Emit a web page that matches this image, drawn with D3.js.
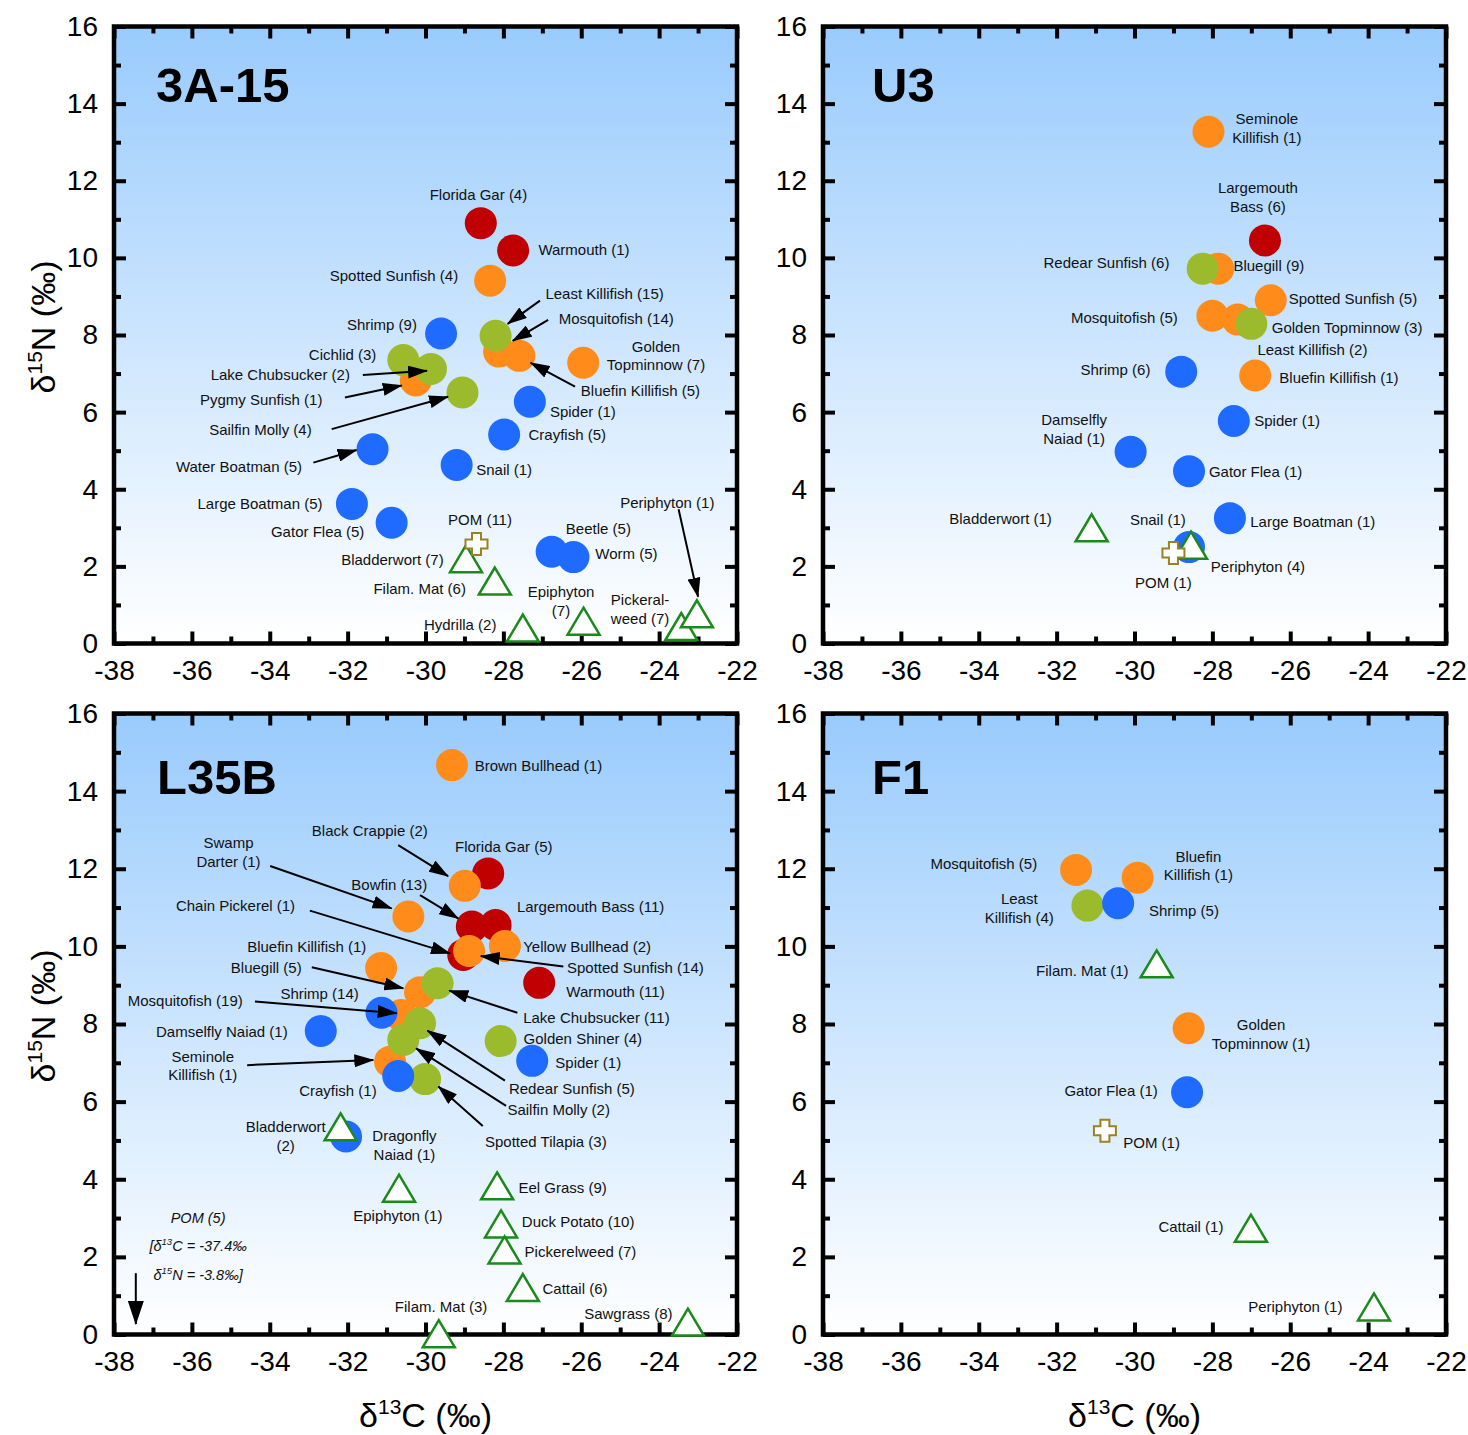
<!DOCTYPE html>
<html><head><meta charset="utf-8">
<script src="https://cdn.jsdelivr.net/npm/d3@7"></script>
<style>
body{margin:0;background:#fff;}
svg text{font-family:"Liberation Sans",Arial,Helvetica,sans-serif;}
</style></head><body>
<svg id="chart" width="1468" height="1435"></svg>
<script>
// ---------- DATA ----------
const xMajor = [-38,-36,-34,-32,-30,-28,-26,-24,-22];
const xMinor = [-37,-35,-33,-31,-29,-27,-25,-23];
const yMajor = [0,2,4,6,8,10,12,14,16];
const yMinor = [1,3,5,7,9,11,13,15];
const siteNames = ["3A-15","U3","L35B","F1"];

// [taxon, group, d13C, d15N]
const pts3A15 = [
 ["Florida Gar","pisc",-28.58,10.9],["Warmouth","pisc",-27.75,10.19],
 ["Spotted Sunfish","fish",-28.34,9.41],["Mosquitofish","fish",-28.11,7.57],["Bluefin Killifish","fish",-27.59,7.46],
 ["Golden Topminnow","fish",-25.95,7.28],["Pygmy Sunfish","fish",-30.25,6.82],
 ["Least Killifish","omni",-28.2,7.98],["Cichlid","omni",-30.57,7.35],["Lake Chubsucker","omni",-29.86,7.12],["Sailfin Molly","omni",-29.05,6.51],
 ["Shrimp","invert",-29.6,8.04],["Spider","invert",-27.32,6.27],["Crayfish","invert",-27.98,5.42],["Snail","invert",-29.2,4.63],
 ["Water Boatman","invert",-31.36,5.04],["Large Boatman","invert",-31.89,3.62],["Gator Flea","invert",-30.87,3.13],
 ["Beetle","invert",-26.76,2.38],["Worm","invert",-26.2,2.24],
 ["Bladderwort","plant",-28.96,2.2],["Filam. Mat","plant",-28.22,1.62],["Hydrilla","plant",-27.5,0.40],
 ["Epiphyton","plant",-25.94,0.58],["Pickerelweed","plant",-23.43,0.44],["Periphyton","plant",-23.03,0.77],
 ["POM","pom",-28.69,2.58]
];
const ptsU3 = [
 ["Largemouth Bass","pisc",-26.65,10.45],
 ["Seminole Killifish","fish",-28.1,13.27],["Bluegill","fish",-27.85,9.72],["Spotted Sunfish","fish",-26.5,8.9],
 ["Mosquitofish","fish",-28.0,8.5],["Least Killifish","fish",-27.35,8.4],["Bluefin Killifish","fish",-26.9,6.95],
 ["Redear Sunfish","omni",-28.25,9.72],["Golden Topminnow","omni",-27.0,8.29],
 ["Shrimp","invert",-28.8,7.05],["Spider","invert",-27.45,5.77],["Damselfly Naiad","invert",-30.1,4.97],
 ["Gator Flea","invert",-28.6,4.47],["Large Boatman","invert",-27.55,3.25],["Snail","invert",-28.6,2.5],
 ["Periphyton","plant",-28.55,2.55],["Bladderwort","plant",-31.1,3.0],
 ["POM","pom",-29.0,2.35]
];
const ptsL35B = [
 ["Florida Gar","pisc",-28.39,11.88],["Bowfin","pisc",-28.81,10.51],["Largemouth Bass","pisc",-28.2,10.55],
 ["Chain Pickerel","pisc",-29.03,9.78],["Warmouth","pisc",-27.08,9.06],
 ["Brown Bullhead","fish",-29.32,14.67],["Black Crappie","fish",-28.99,11.56],["Yellow Bullhead","fish",-27.96,10.01],
 ["Spotted Sunfish","fish",-28.88,9.88],["Swamp Darter","fish",-30.44,10.77],["Bluefin Killifish","fish",-31.14,9.44],
 ["Bluegill","fish",-30.14,8.82],["Mosquitofish","fish",-30.63,8.23],["Seminole Killifish","fish",-30.91,7.03],
 ["Lake Chubsucker","omni",-29.69,9.05],["Golden Shiner","omni",-28.07,7.56],["Redear Sunfish","omni",-30.14,8.02],
 ["Sailfin Molly","omni",-30.57,7.59],["Spotted Tilapia","omni",-30.01,6.58],
 ["Spider","invert",-27.26,7.05],["Shrimp","invert",-31.13,8.29],["Crayfish","invert",-30.70,6.66],
 ["Damselfly Naiad","invert",-32.69,7.82],["Dragonfly Naiad","invert",-32.04,5.10],
 ["Bladderwort","plant",-32.18,5.35],["Epiphyton","plant",-30.68,3.77],["Eel Grass","plant",-28.16,3.83],
 ["Duck Potato","plant",-28.06,2.85],["Pickerelweed","plant",-27.97,2.18],["Cattail","plant",-27.5,1.21],
 ["Filam. Mat","plant",-29.66,0.02],["Sawgrass","plant",-23.26,0.32]
];
const ptsF1 = [
 ["Mosquitofish","fish",-31.5,11.97],["Bluefin Killifish","fish",-29.92,11.77],["Golden Topminnow","fish",-28.61,7.89],
 ["Least Killifish","omni",-31.21,11.05],
 ["Shrimp","invert",-30.42,11.11],["Gator Flea","invert",-28.65,6.24],
 ["Filam. Mat","plant",-29.43,9.55],["Cattail","plant",-27.01,2.74],["Periphyton","plant",-23.85,0.71],
 ["POM","pom",-30.76,5.25]
];

// ---------- ANNOTATIONS (label text, d13C, d15N of first line centre) ----------
const lab3A15 = [
 ["Florida Gar (4)",-28.64,11.63],["Warmouth (1)",-25.93,10.2],["Spotted Sunfish (4)",-30.81,9.53],
 ["Least Killifish (15)",-25.4,9.08],["Mosquitofish (14)",-25.1,8.43],["Golden|Topminnow (7)",-24.08,7.70],
 ["Bluefin Killifish (5)",-24.48,6.56],["Spider (1)",-25.96,6.01],["Crayfish (5)",-26.36,5.41],
 ["Snail (1)",-27.98,4.5],["Shrimp (9)",-31.12,8.26],["Cichlid (3)",-32.13,7.48],
 ["Lake Chubsucker (2)",-33.73,6.96],["Pygmy Sunfish (1)",-34.22,6.33],["Sailfin Molly (4)",-34.24,5.54],
 ["Water Boatman (5)",-34.79,4.59],["Large Boatman (5)",-34.25,3.62],["Gator Flea (5)",-32.77,2.89],
 ["POM (11)",-28.6,3.2],["Beetle (5)",-25.56,2.97],["Worm (5)",-24.84,2.32],
 ["Bladderwort (7)",-30.85,2.17],["Filam. Mat (6)",-30.15,1.41],["Epiphyton|(7)",-26.52,1.34],
 ["Hydrilla (2)",-29.11,0.48],["Pickeral-|weed (7)",-24.49,1.13],["Periphyton (1)",-23.79,3.64]
];
const arr3A15 = [
 [-27.06,8.89,-27.89,8.29],[-26.85,8.39,-27.76,7.85],[-26.16,6.66,-27.3,7.28],
 [-31.61,6.96,-29.96,7.07],[-32.07,6.38,-30.61,6.69],[-32.41,5.56,-29.42,6.4],
 [-32.88,4.69,-31.77,5.02],[-23.5,3.48,-23.0,1.21]
];
const labU3 = [
 ["Seminole|Killifish (1)",-26.6,13.6],["Largemouth|Bass (6)",-26.83,11.81],["Redear Sunfish (6)",-30.72,9.87],
 ["Bluegill (9)",-26.55,9.79],["Spotted Sunfish (5)",-24.39,8.93],["Mosquitofish (5)",-30.26,8.44],
 ["Golden Topminnow (3)",-24.54,8.18],["Least Killifish (2)",-25.43,7.61],["Shrimp (6)",-30.49,7.09],
 ["Bluefin Killifish (1)",-24.75,6.89],["Spider (1)",-26.08,5.77],["Damselfly|Naiad (1)",-31.55,5.80],
 ["Gator Flea (1)",-26.89,4.45],["Bladderwort (1)",-33.44,3.23],["Snail (1)",-29.4,3.2],
 ["Large Boatman (1)",-25.42,3.15],["Periphyton (4)",-26.83,1.98],["POM (1)",-29.26,1.57]
];
const arrU3 = [];
const labL35B = [
 ["Brown Bullhead (1)",-27.1,14.65],["Black Crappie (2)",-31.43,12.98],["Florida Gar (5)",-27.99,12.57],
 ["Swamp|Darter (1)",-35.06,12.66],["Bowfin (13)",-30.93,11.58],["Largemouth Bass (11)",-25.76,11.01],
 ["Chain Pickerel (1)",-34.88,11.05],["Yellow Bullhead (2)",-25.85,9.99],["Bluefin Killifish (1)",-33.05,9.99],
 ["Spotted Sunfish (14)",-24.61,9.45],["Bluegill (5)",-34.09,9.44],["Warmouth (11)",-25.12,8.83],
 ["Shrimp (14)",-32.72,8.79],["Mosquitofish (19)",-36.17,8.6],["Lake Chubsucker (11)",-25.61,8.15],
 ["Damselfly Naiad (1)",-35.23,7.8],["Golden Shiner (4)",-25.96,7.63],["Seminole|Killifish (1)",-35.72,7.16],
 ["Spider (1)",-25.82,6.99],["Crayfish (1)",-32.25,6.27],["Redear Sunfish (5)",-26.24,6.34],
 ["Sailfin Molly (2)",-26.58,5.78],["Spotted Tilapia (3)",-26.91,4.96],["Bladderwort|(2)",-33.59,5.35],
 ["Dragonfly|Naiad (1)",-30.54,5.12],["Epiphyton (1)",-30.71,3.05],["Eel Grass (9)",-26.48,3.77],
 ["Duck Potato (10)",-26.08,2.91],["Pickerelweed (7)",-26.02,2.13],["Cattail (6)",-26.16,1.19],
 ["Filam. Mat (3)",-29.6,0.72],["Sawgrass (8)",-24.79,0.53]
];
const arrL35B = [
 [-30.7,12.61,-29.42,11.81],[-33.99,12.07,-30.87,10.98],[-30.14,11.32,-29.16,10.72],
 [-32.97,10.92,-29.37,9.82],[-26.46,9.48,-28.58,9.75],[-32.92,9.46,-30.57,8.92],
 [-27.64,8.29,-29.39,8.86],[-34.38,8.58,-30.74,8.28],[-34.58,6.94,-31.34,7.07],
 [-27.96,6.54,-29.95,7.83],[-27.93,5.89,-30.24,7.37],[-28.53,5.37,-29.67,6.39]
];
const labF1 = [
 ["Mosquitofish (5)",-33.87,12.14],["Bluefin|Killifish (1)",-28.36,12.31],["Least|Killifish (4)",-32.96,11.22],
 ["Shrimp (5)",-28.73,10.91],["Filam. Mat (1)",-31.34,9.37],["Golden|Topminnow (1)",-26.75,7.97],
 ["Gator Flea (1)",-30.6,6.27],["POM (1)",-29.56,4.95],["Cattail (1)",-28.55,2.78],["Periphyton (1)",-25.87,0.72]
];
const arrF1 = [];
// off-scale POM note for L35B: value, note position, arrow
const pomL35B = {c:-37.4, n:-3.8, count:5, noteX:-35.84, noteY:[3.0,2.29,1.54], arrow:[-37.44,1.58,-37.44,0.27]};

// ---------- STYLE / LAYOUT ----------
const colors = {pisc:"#C00000", fish:"#FF8C1A", omni:"#9BBB2C", invert:"#1F6BFF"};
const circleOrder = ["pisc","fish","omni","invert"];
const FONT = '"Liberation Sans",Arial,Helvetica,sans-serif';
const panelCfg = [
 {site:siteNames[0], pts:pts3A15, labels:lab3A15, arrows:arr3A15, box:[114,26.5,737,643.5], titleDx:42, titleDy:75.5, yTitle:true, xTitle:false},
 {site:siteNames[1], pts:ptsU3, labels:labU3, arrows:arrU3, box:[823,26.5,1446,643.5], titleDx:49, titleDy:75.5, yTitle:false, xTitle:false},
 {site:siteNames[2], pts:ptsL35B, labels:labL35B, arrows:arrL35B, box:[114,713.5,737,1334.5], titleDx:43, titleDy:80.5, yTitle:true, xTitle:true, pom:pomL35B},
 {site:siteNames[3], pts:ptsF1, labels:labF1, arrows:arrF1, box:[823,713.5,1446,1334.5], titleDx:49, titleDy:80.5, yTitle:false, xTitle:true}
];

const svg = d3.select("#chart");
const defs = svg.append("defs");
const grad = defs.append("linearGradient").attr("id","bg").attr("x1",0).attr("y1",0).attr("x2",0).attr("y2",1);
grad.append("stop").attr("offset","0%").attr("stop-color","#99CBFD");
grad.append("stop").attr("offset","100%").attr("stop-color","#FFFFFF");
defs.append("marker").attr("id","ah").attr("viewBox","0 0 20 13").attr("refX",19).attr("refY",6.5)
  .attr("markerWidth",20).attr("markerHeight",13).attr("markerUnits","userSpaceOnUse").attr("orient","auto")
  .append("path").attr("d","M0,0L20,6.5L0,13Z").attr("fill","#000");
defs.append("marker").attr("id","ah2").attr("viewBox","0 0 24 16").attr("refX",23).attr("refY",8)
  .attr("markerWidth",24).attr("markerHeight",16).attr("markerUnits","userSpaceOnUse").attr("orient","auto")
  .append("path").attr("d","M0,0L24,8L0,16Z").attr("fill","#000");

const triPath = "M0,-13.5L16,13.5L-16,13.5Z";
const crossPath = "M-4.5,-11H4.5V-4.5H11V4.5H4.5V11H-4.5V4.5H-11V-4.5H-4.5Z";

panelCfg.forEach(p => {
  const [bx0,by0,bx1,by1] = p.box;
  const W = bx1-bx0, H = by1-by0;
  const g = svg.append("g").attr("transform",`translate(${bx0},${by0})`);
  const x = d3.scaleLinear().domain([-38,-22]).range([0,W]);
  const y = d3.scaleLinear().domain([0,16]).range([H,0]);

  g.append("rect").attr("width",W).attr("height",H).attr("fill","url(#bg)");

  const ax = (gen, tr) => {
    const a = g.append("g").attr("transform",tr).call(gen);
    a.select(".domain").remove();
    a.selectAll("line").attr("stroke","#000").attr("stroke-width",4);
    a.selectAll("text").attr("font-size",28).attr("fill","#000").attr("font-family",FONT);
    return a;
  };
  const fmt = d => String(d);
  ax(d3.axisBottom(x).tickValues(xMajor).tickSizeInner(-12).tickSizeOuter(0).tickPadding(17).tickFormat(fmt), `translate(0,${H})`);
  ax(d3.axisBottom(x).tickValues(xMinor).tickSizeInner(-7).tickSizeOuter(0).tickFormat(""), `translate(0,${H})`);
  ax(d3.axisTop(x).tickValues(xMajor).tickSizeInner(-12).tickSizeOuter(0).tickFormat(""), `translate(0,0)`);
  ax(d3.axisTop(x).tickValues(xMinor).tickSizeInner(-7).tickSizeOuter(0).tickFormat(""), `translate(0,0)`);
  ax(d3.axisLeft(y).tickValues(yMajor).tickSizeInner(-12).tickSizeOuter(0).tickPadding(16).tickFormat(fmt), `translate(0,0)`);
  ax(d3.axisLeft(y).tickValues(yMinor).tickSizeInner(-7).tickSizeOuter(0).tickFormat(""), `translate(0,0)`);
  ax(d3.axisRight(y).tickValues(yMajor).tickSizeInner(-12).tickSizeOuter(0).tickFormat(""), `translate(${W},0)`);
  ax(d3.axisRight(y).tickValues(yMinor).tickSizeInner(-7).tickSizeOuter(0).tickFormat(""), `translate(${W},0)`);

  g.append("rect").attr("width",W).attr("height",H).attr("fill","none").attr("stroke","#000").attr("stroke-width",4.5);

  // circles
  circleOrder.forEach(grp => {
    g.selectAll(null).data(p.pts.filter(d => d[1]===grp)).enter().append("circle")
      .attr("cx", d => x(d[2])).attr("cy", d => y(d[3])).attr("r",16).attr("fill",colors[grp]);
  });
  // primary producers
  g.selectAll(null).data(p.pts.filter(d => d[1]==="plant")).enter().append("path")
    .attr("d",triPath).attr("transform", d => `translate(${x(d[2])},${y(d[3])})`)
    .attr("fill","#fff").attr("stroke","#1A8A1A").attr("stroke-width",2.5).attr("stroke-linejoin","miter");
  g.selectAll(null).data(p.pts.filter(d => d[1]==="pom")).enter().append("path")
    .attr("d",crossPath).attr("transform", d => `translate(${x(d[2])},${y(d[3])})`)
    .attr("fill","#fff").attr("stroke","#9A8222").attr("stroke-width",2);

  // arrows
  g.selectAll(null).data(p.arrows).enter().append("line")
    .attr("x1", d => x(d[0])).attr("y1", d => y(d[1])).attr("x2", d => x(d[2])).attr("y2", d => y(d[3]))
    .attr("stroke","#000").attr("stroke-width",2).attr("marker-end","url(#ah)");

  // labels
  p.labels.forEach(l => {
    const lines = l[0].split("|");
    const t = g.append("text").attr("x",x(l[1])).attr("y",y(l[2])).attr("text-anchor","middle")
      .attr("font-size",15).attr("fill","#111");
    lines.forEach((s,i) => t.append("tspan").attr("x",x(l[1])).attr("dy", i===0 ? "0.35em" : "18.5").text(s));
  });

  // off-scale POM note
  if (p.pom) {
    const q = p.pom;
    const nx = x(q.noteX);
    const mk = (yy) => g.append("text").attr("x",nx).attr("y",y(yy)).attr("dy","0.35em").attr("text-anchor","middle")
      .attr("font-size",14.5).attr("font-style","italic").attr("fill","#111");
    mk(q.noteY[0]).text(`POM (${q.count})`);
    const t2 = mk(q.noteY[1]);
    t2.append("tspan").text("[δ");
    t2.append("tspan").attr("font-size",9.5).attr("dy",-6).text("13");
    t2.append("tspan").attr("dy",6).text(`C = ${q.c}‰`);
    const t3 = mk(q.noteY[2]);
    t3.append("tspan").text("δ");
    t3.append("tspan").attr("font-size",9.5).attr("dy",-6).text("15");
    t3.append("tspan").attr("dy",6).text(`N = ${q.n}‰]`);
    g.append("line").attr("x1",x(q.arrow[0])).attr("y1",y(q.arrow[1])).attr("x2",x(q.arrow[2])).attr("y2",y(q.arrow[3]))
      .attr("stroke","#000").attr("stroke-width",2).attr("marker-end","url(#ah2)");
  }

  // site title
  g.append("text").attr("x",p.titleDx).attr("y",p.titleDy).attr("font-size",49).attr("font-weight","bold")
    .attr("fill","#000").text(p.site);

  // axis titles
  if (p.yTitle) {
    const t = svg.append("text").attr("transform",`translate(55,${by0 + H/2 - 8}) rotate(-90)`)
      .attr("text-anchor","middle").attr("font-size",34).attr("fill","#000");
    t.append("tspan").text("δ");
    t.append("tspan").attr("font-size",21).attr("dy",-13).text("15");
    t.append("tspan").attr("dy",13).text("N (‰)");
  }
  if (p.xTitle) {
    const t = svg.append("text").attr("x",bx0 + W/2).attr("y",1427)
      .attr("text-anchor","middle").attr("font-size",34).attr("fill","#000");
    t.append("tspan").text("δ");
    t.append("tspan").attr("font-size",21).attr("dy",-13).text("13");
    t.append("tspan").attr("dy",13).text("C (‰)");
  }
});
</script></body></html>
